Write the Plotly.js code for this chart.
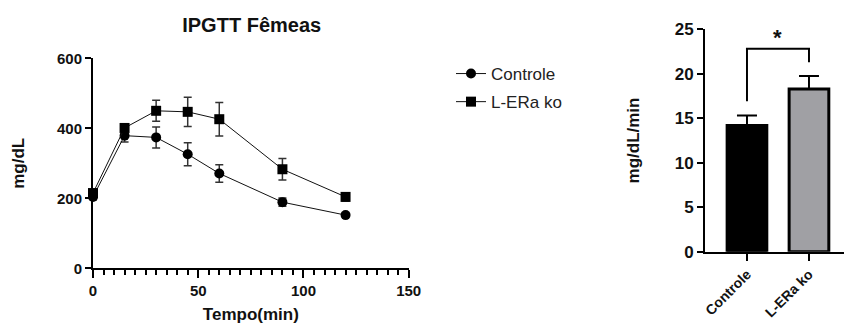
<!DOCTYPE html>
<html>
<head>
<meta charset="utf-8">
<script src="https://cdn.plot.ly/plotly-3.0.1.min.js"></script>
<style>html,body{margin:0;padding:0;background:#fff;}#chart{width:844px;height:324px;}</style>
</head>
<body>
<div id="chart"></div>
<script>
// Time course data (IPGTT)
const tempo = [0, 15, 30, 45, 60, 90, 120];
const controle = [204, 379, 374, 326, 271, 189, 152];
const controleErr = [8, 18, 30, 33, 25, 12, 5];
const ko = [215, 401, 450, 447, 426, 283, 204];
const koErr = [10, 10, 30, 42, 48, 31, 12];
const seriesNames = ['Controle', 'L-ERa ko'];

// AUC bar data
const barCategories = ['Controle', 'L-ERa ko'];
const barValues = [14.2, 18.3];
const barErrors = [1.1, 1.45];
const barColors = ['#000000', '#a0a0a4'];

// Annotation texts
const titleText = 'IPGTT Fêmeas';
const xTitle = 'Tempo(min)';
const yTitle = 'mg/dL';
const y2Title = 'mg/dL/min';
const sigText = '*';

const W = 844, H = 324;
const F = 'Arial, "Liberation Sans", sans-serif';
const tickFont = {family: F, size: 15, color: '#111', weight: 'bold'};
const tickFont2 = {family: F, size: 17, color: '#111', weight: 'bold'};
const catFont = {family: F, size: 14, color: '#111', weight: 'bold'};
const titleFont = {family: F, size: 17, weight: 'bold', color: '#111'};

const traces = [
  {
    x: tempo, y: controle, name: seriesNames[0], type: 'scatter', mode: 'lines+markers',
    legendgroup: 'a',
    line: {color: '#111', width: 1},
    marker: {symbol: 'circle', size: 10, color: '#000'},
    error_y: {type: 'data', array: controleErr, visible: true, color: '#333', thickness: 1.5, width: 4},
    cliponaxis: false, xaxis: 'x', yaxis: 'y'
  },
  {
    x: tempo, y: ko, name: seriesNames[1], type: 'scatter', mode: 'lines+markers',
    legendgroup: 'b',
    line: {color: '#111', width: 1},
    marker: {symbol: 'square', size: 10, color: '#000'},
    error_y: {type: 'data', array: koErr, visible: true, color: '#333', thickness: 1.5, width: 4},
    cliponaxis: false, xaxis: 'x', yaxis: 'y'
  },
  {
    x: barCategories, y: barValues, type: 'bar', showlegend: false,
    width: 0.64,
    marker: {color: barColors, line: {color: '#000', width: 3}},
    error_y: {type: 'data', symmetric: false, array: barErrors, arrayminus: [0, 0], visible: true, color: '#000', thickness: 2, width: 10},
    xaxis: 'x2', yaxis: 'y2'
  }
];

const axisCommon = {
  showgrid: false, zeroline: false, showline: true, linecolor: '#000', linewidth: 2,
  ticks: 'outside', tickcolor: '#000', tickwidth: 2, fixedrange: true
};

const layout = {
  width: W, height: H,
  margin: {l: 0, r: 0, t: 0, b: 0},
  paper_bgcolor: '#fff', plot_bgcolor: 'rgba(0,0,0,0)',
  font: {family: F, color: '#111'},
  title: {
    text: titleText, font: {family: F, size: 20, weight: 'bold', color: '#111'},
    x: 251.7 / W, xanchor: 'center', xref: 'paper',
    y: 1 - 25 / H, yanchor: 'middle', yref: 'container'
  },
  showlegend: true,
  legend: {
    x: 451 / W, xanchor: 'left', y: 1 - 56 / H, yanchor: 'top',
    font: {family: F, size: 17, color: '#222'},
    traceorder: 'grouped', tracegroupgap: 3,
    bgcolor: 'rgba(0,0,0,0)', borderwidth: 0
  },
  xaxis: Object.assign({}, axisCommon, {
    domain: [93 / W, 408.7 / W], range: [0, 150], dtick: 50, tick0: 0, ticklen: 8,
    tickfont: tickFont,
    minor: {dtick: 5, tick0: 0, ticks: 'outside', ticklen: 5, tickwidth: 2, tickcolor: '#000'},
    anchor: 'y',
    title: {text: xTitle, font: titleFont, standoff: 10}
  }),
  yaxis: Object.assign({}, axisCommon, {
    domain: [(H - 268.3) / H, (H - 58.3) / H], range: [0, 600], dtick: 200, ticklen: 6,
    tickfont: tickFont,
    anchor: 'x',
    title: {text: yTitle, font: titleFont, standoff: 28}
  }),
  xaxis2: Object.assign({}, axisCommon, {
    domain: [705 / W, 1], type: 'category', range: [-0.677, 1.565], ticklen: 7,
    tickfont: catFont,
    tickangle: -45, anchor: 'y2'
  }),
  yaxis2: Object.assign({}, axisCommon, {
    domain: [(H - 251.7) / H, (H - 29.3) / H], range: [0, 25], dtick: 5, ticklen: 6,
    tickfont: tickFont2,
    anchor: 'x2',
    title: {text: y2Title, font: titleFont, standoff: 31}
  }),
  shapes: [
    {
      type: 'path', xref: 'x2', yref: 'y2',
      path: 'M 0 16.9 L 0 22.8 L 1 22.8 L 1 21.3',
      line: {color: '#000', width: 2}
    }
  ],
  annotations: [
    {
      xref: 'x2', yref: 'y2', x: 0.5, y: 24.1, text: sigText, showarrow: false,
      font: {family: F, size: 22, weight: 'bold', color: '#111'}, yanchor: 'middle'
    }
  ]
};

Plotly.newPlot('chart', traces, layout, {displayModeBar: false, staticPlot: true});
</script>
</body>
</html>
